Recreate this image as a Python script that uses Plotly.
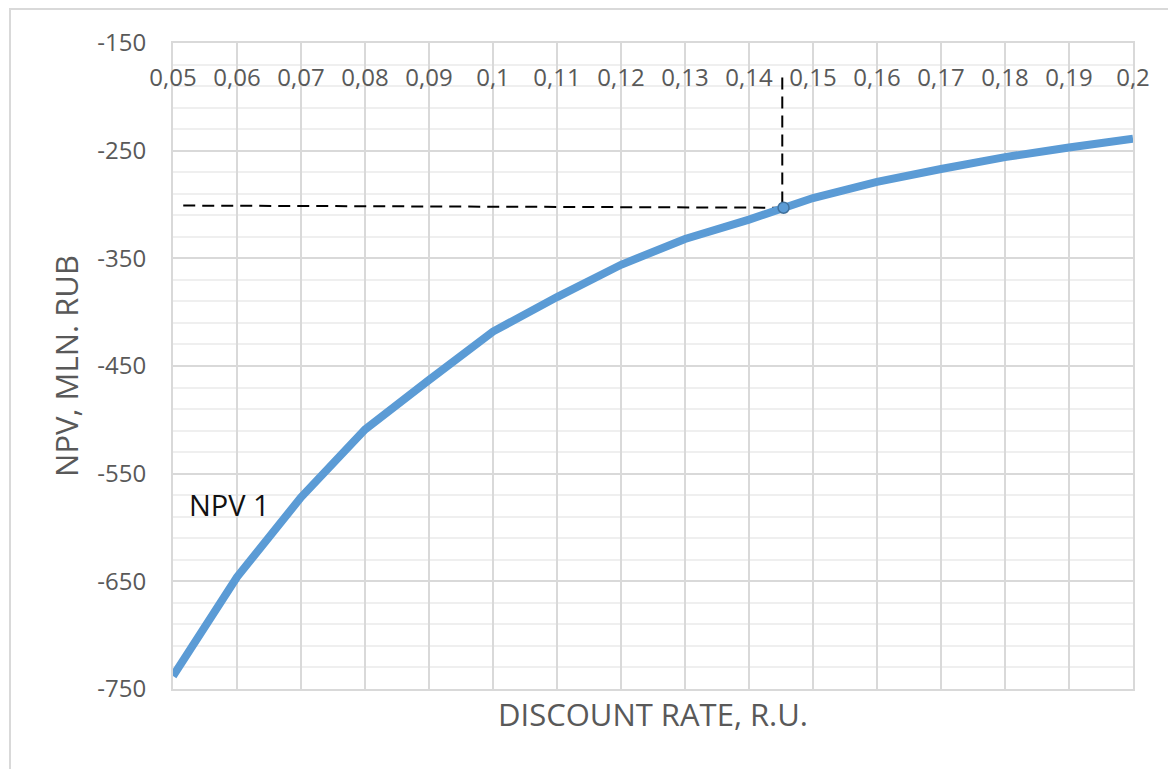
import plotly.graph_objects as go

# ---- data ----
discount_rate = [0.05, 0.06, 0.07, 0.08, 0.09, 0.10, 0.11, 0.12, 0.13, 0.14,
                 0.15, 0.16, 0.17, 0.18, 0.19, 0.20]
npv_values = [-738, -646, -572, -509, -463, -418, -386, -356, -332, -314,
              -294, -279, -267, -256, -247, -239]
x_tick_vals = [0.05, 0.06, 0.07, 0.08, 0.09, 0.10, 0.11, 0.12, 0.13, 0.14,
               0.15, 0.16, 0.17, 0.18, 0.19, 0.20]
x_tick_text = ["0,05", "0,06", "0,07", "0,08", "0,09", "0,1", "0,11", "0,12",
               "0,13", "0,14", "0,15", "0,16", "0,17", "0,18", "0,19", "0,2"]
y_tick_vals = [-150, -250, -350, -450, -550, -650, -750]
y_tick_text = ["-150", "-250", "-350", "-450", "-550", "-650", "-750"]
irr_point_x = [0.1454]
irr_point_y = [-303]
guide_h_x = [0.0516, 0.1454]
guide_h_y = [-301, -303]
guide_v_x = [0.1452, 0.1452]
guide_v_y = [-182, -303]
series_label = "NPV 1"
series_label_pos = (0.0522, -579)

FONT = "Open Sans"
GREY = "#595959"
BLUE = "#5B9BD5"

fig = go.Figure()

fig.add_trace(go.Scatter(x=guide_h_x, y=guide_h_y, mode="lines",
                         line=dict(color="black", width=2, dash="12px,7px"),
                         showlegend=False, hoverinfo="skip"))
fig.add_trace(go.Scatter(x=guide_v_x, y=guide_v_y, mode="lines",
                         line=dict(color="black", width=2, dash="12px,7px"),
                         showlegend=False, hoverinfo="skip"))
fig.add_trace(go.Scatter(x=discount_rate, y=npv_values, mode="lines",
                         line=dict(color=BLUE, width=8),
                         name="NPV 1", showlegend=False))
fig.add_trace(go.Scatter(x=irr_point_x, y=irr_point_y, mode="markers",
                         marker=dict(size=11, color=BLUE,
                                     line=dict(color="#41719C", width=1.5)),
                         showlegend=False))
# invisible trace for top tick labels axis
fig.add_trace(go.Scatter(x=discount_rate, y=npv_values, xaxis="x2", mode="none",
                         showlegend=False, hoverinfo="skip"))

fig.add_annotation(x=series_label_pos[0], y=series_label_pos[1], xref="x", yref="y",
                   text=series_label, showarrow=False, xanchor="left", yanchor="middle",
                   font=dict(family=FONT, size=29, color="#111111"))

# outer chart border (top and left visible)
fig.add_shape(type="rect", xref="paper", yref="paper",
              x0=-0.1698, x1=1.2, y0=-0.3, y1=1.0526,
              line=dict(color="#d9d9d9", width=2), layer="below")

fig.update_layout(
    width=1168, height=761,
    margin=dict(l=165, r=43, t=35, b=80),
    paper_bgcolor="white", plot_bgcolor="white",
    font=dict(family=FONT, color=GREY),
    xaxis=dict(range=[0.05, 0.2], tickvals=x_tick_vals, showticklabels=False,
               showgrid=True, gridcolor="#d9d9d9", gridwidth=2,
               zeroline=False, showline=True, linecolor="#d9d9d9", linewidth=2,
               mirror=True, ticks="",
               title=dict(text="DISCOUNT RATE, R.U.", standoff=14,
                          font=dict(family=FONT, size=31, color=GREY))),
    xaxis2=dict(range=[0.05, 0.2], overlaying="x", anchor="free", position=0.972,
                side="bottom", tickvals=x_tick_vals, ticktext=x_tick_text,
                showgrid=False, zeroline=False, showline=False, ticks="",
                tickfont=dict(family=FONT, size=24, color=GREY)),
    yaxis=dict(range=[-750, -150], tickvals=y_tick_vals, ticktext=y_tick_text,
               showgrid=True, gridcolor="#d9d9d9", gridwidth=2,
               zeroline=False, showline=True, linecolor="#d9d9d9", linewidth=2,
               mirror=True, ticks="", ticklabelstandoff=20,
               tickfont=dict(family=FONT, size=24, color=GREY),
               minor=dict(dtick=20, tick0=-150, showgrid=True,
                          gridcolor="#efefef", gridwidth=2),
               title=dict(text="NPV, MLN. RUB", standoff=9,
                          font=dict(family=FONT, size=31, color=GREY))),
)

fig.write_html("out.html")
